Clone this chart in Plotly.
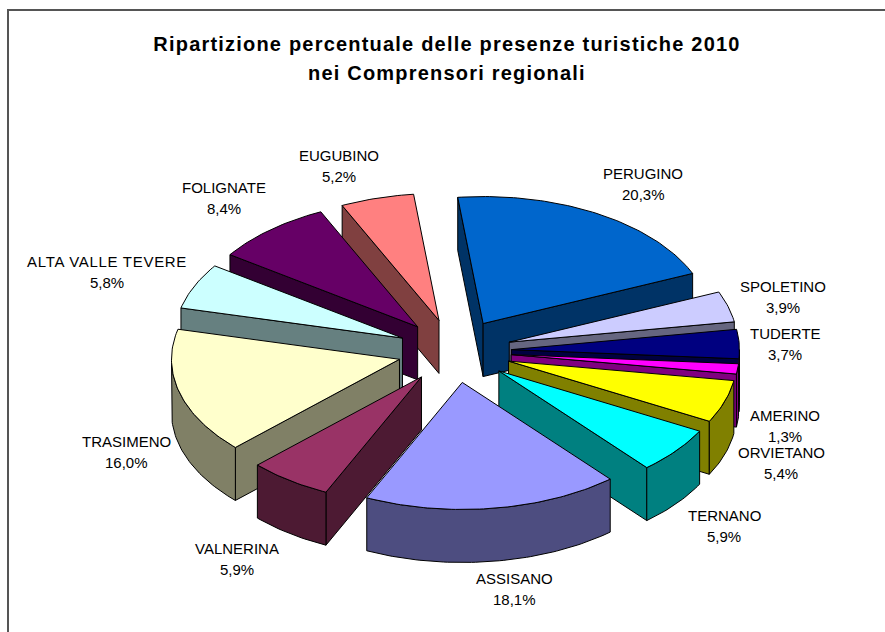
import math
import plotly.graph_objects as go

categories = ["PERUGINO", "SPOLETINO", "TUDERTE", "AMERINO", "ORVIETANO", "TERNANO",
              "ASSISANO", "VALNERINA", "TRASIMENO", "ALTA VALLE TEVERE", "FOLIGNATE", "EUGUBINO"]
values = [20.3, 3.9, 3.7, 1.3, 5.4, 5.9, 18.1, 5.9, 16.0, 5.8, 8.4, 5.2]
top_colors = ["#0066CC", "#CCCCFF", "#000080", "#FF00FF", "#FFFF00", "#00FFFF",
              "#9999FF", "#993366", "#FFFFCC", "#CCFFFF", "#660066", "#FF8080"]
side_colors = ["#003366", "#666680", "#000040", "#800080", "#808000", "#008080",
               "#4D4D80", "#4D1A33", "#808066", "#668080", "#330033", "#804040"]
# label centres (x, y of name line)
label_pos = [(643, 173), (783, 286), (785, 333), (785, 415), (781, 452), (724, 515),
             (514, 578), (237, 548), (126, 441), (107, 261), (224, 187), (339, 155)]

# geometry of the projected pie
CX, CY = 454.5, 351.0
RX, RY = 228.0, 127.0
DEPTH = 53.0
EXPLODE = 0.25
START = -6.4
draw_order = [0, 1, 2, 3, 4, 5, 11, 10, 9, 8, 7, 6]

total = sum(values)
fig = go.Figure()


def add_poly(pts, color, name):
    fig.add_trace(go.Scatter(
        x=[p[0] for p in pts] + [pts[0][0]],
        y=[p[1] for p in pts] + [pts[0][1]],
        mode="lines", fill="toself", fillcolor=color,
        line=dict(color="#000000", width=1),
        hoverinfo="text", text=name, showlegend=False))


cum = 0.0
geom = []
for v in values:
    t0 = math.radians(START + cum / total * 360)
    cum += v
    t1 = math.radians(START + cum / total * 360)
    geom.append((t0, t1))

for i in draw_order:
    t0, t1 = geom[i]
    tm = (t0 + t1) / 2
    ax = CX + EXPLODE * RX * math.sin(tm)
    ay = CY - EXPLODE * RY * math.cos(tm)
    n = max(6, int(math.degrees(t1 - t0)))
    arc = [(ax + RX * math.sin(t0 + (t1 - t0) * k / n),
            ay - RY * math.cos(t0 + (t1 - t0) * k / n)) for k in range(n + 1)]
    name = f"{categories[i]} {values[i]}%"
    # radial walls
    if arc[0][0] < ax:
        p, q = (ax, ay), arc[0]
        add_poly([p, q, (q[0], q[1] + DEPTH), (p[0], p[1] + DEPTH)], side_colors[i], name)
    if ax < arc[-1][0]:
        p, q = arc[-1], (ax, ay)
        add_poly([p, q, (q[0], q[1] + DEPTH), (p[0], p[1] + DEPTH)], side_colors[i], name)
    # outer wall (only the part facing the viewer)
    front = [p for k, p in enumerate(arc)
             if (k > 0 and arc[k - 1][0] >= p[0]) or (k < n and arc[k + 1][0] <= p[0])]
    if len(front) > 1:
        add_poly(front + [(p[0], p[1] + DEPTH) for p in reversed(front)], side_colors[i], name)
    # top surface
    add_poly([(ax, ay)] + arc, top_colors[i], name)

annotations = []
FONT = "Liberation Sans, Arial, sans-serif"
for (lx, ly), c, v in zip(label_pos, categories, values):
    annotations.append(dict(x=lx, y=ly, xref="x", yref="y", text=c, showarrow=False,
                            font=dict(family=FONT, size=15, color="#000000"), xanchor="center", yanchor="middle"))
    annotations.append(dict(x=lx, y=ly + 21.5, xref="x", yref="y", text=f"{v:.1f}%".replace(".", ","), showarrow=False,
                            font=dict(family=FONT, size=15, color="#000000"), xanchor="center", yanchor="middle"))
annotations.append(dict(x=447, y=73, xref="x", yref="y", text="<b>nei Comprensori regionali</b>", showarrow=False,
                        font=dict(family=FONT, size=20, color="#000000"), xanchor="center", yanchor="middle"))

fig.update_layout(
    width=885, height=632, margin=dict(l=0, r=0, t=0, b=0),
    paper_bgcolor="white", plot_bgcolor="white", showlegend=False,
    title=dict(text="<b>Ripartizione percentuale delle presenze turistiche 2010</b>",
               x=447 / 885, xanchor="center", y=1 - 44 / 632, yanchor="middle",
               font=dict(family=FONT, size=20, color="#000000")),
    xaxis=dict(range=[0, 885], visible=False, fixedrange=True),
    yaxis=dict(range=[632, 0], visible=False, fixedrange=True),
    annotations=annotations,
    shapes=[dict(type="line", xref="x", yref="y", x0=8, x1=8, y0=10, y1=632, line=dict(color="#555555", width=2)),
            dict(type="line", xref="x", yref="y", x0=7, x1=885, y0=10, y1=10, line=dict(color="#555555", width=2))],
)
post = """
document.body.style.margin = '0';
document.documentElement.style.overflow = 'hidden';
document.querySelectorAll('svg text').forEach(function (t) {
  var s = t.textContent;
  if (s.indexOf('Ripartizione') === 0 || s.indexOf('nei Comprensori') === 0) {
    t.style.letterSpacing = '1.2px';
  } else if (s === 'ALTA VALLE TEVERE') {
    t.style.letterSpacing = '0.7px';
  }
});
"""
fig.write_html("out.html", post_script=post, config={"displayModeBar": False})
